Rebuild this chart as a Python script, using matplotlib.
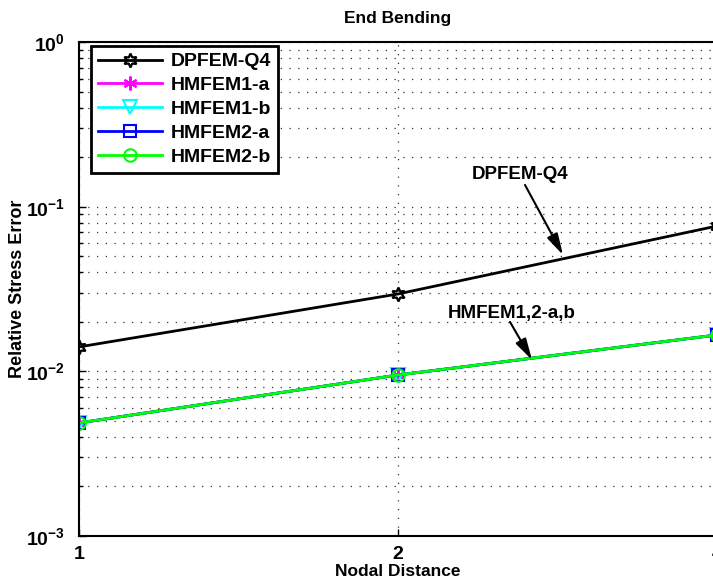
import math
import matplotlib
matplotlib.use("Agg")
import matplotlib.pyplot as plt
from matplotlib.ticker import FixedLocator, LogLocator, NullFormatter, FuncFormatter

plt.rcParams['font.family'] = ['Liberation Sans', 'DejaVu Sans']
plt.rcParams['font.weight'] = 'bold'
plt.rcParams['mathtext.fontset'] = 'custom'
plt.rcParams['mathtext.rm'] = 'Liberation Sans:bold'
plt.rcParams['mathtext.bf'] = 'Liberation Sans:bold'
plt.rcParams['mathtext.it'] = 'Liberation Sans:bold'

nodal = [1, 2, 4]
dpfem_q4 = [0.01407, 0.0295, 0.0763]
hmfem1_a = [0.00486, 0.0095, 0.01663]
hmfem1_b = [0.00486, 0.0095, 0.01663]
hmfem2_a = [0.00486, 0.0095, 0.01663]
hmfem2_b = [0.00486, 0.0095, 0.01663]
x_ticks = [1, 2, 4]

fig = plt.figure(figsize=(7.13, 5.86), dpi=100)
W, H = 713, 586
left, right, top, bottom = 79, 717, 42, 536
ax = fig.add_axes([left / W, 1 - bottom / H, (right - left) / W, (bottom - top) / H])
ax.set_xscale('log', base=2)
ax.set_yscale('log')

hexagram = (6, 1, 0)
asterisk = (6, 2, 0)
ax.plot(nodal, dpfem_q4, color='black', lw=2, marker=hexagram, ms=10, mfc='none', mew=1.6, label='DPFEM-Q4')
ax.plot(nodal, hmfem1_a, color='magenta', lw=2, marker=asterisk, ms=10, mew=1.5, label='HMFEM1-a')
ax.plot(nodal, hmfem1_b, color='cyan', lw=2, marker='v', ms=10, mfc='none', mew=1.5, label='HMFEM1-b')
ax.plot(nodal, hmfem2_a, color='blue', lw=2, marker='s', ms=8, mfc='none', mew=1.5, label='HMFEM2-a')
ax.plot(nodal, hmfem2_b, color='#00ff00', lw=2, marker='o', ms=9, mfc='none', mew=1.5, label='HMFEM2-b')

ax.set_xlim(1, 4)
ax.set_ylim(1e-3, 1)
ax.xaxis.set_major_locator(FixedLocator(x_ticks))
ax.xaxis.set_major_formatter(FuncFormatter(lambda v, p: f'{int(round(v))}'))
ax.xaxis.set_minor_locator(FixedLocator([]))
ax.yaxis.set_major_locator(LogLocator(base=10))
ax.yaxis.set_minor_locator(LogLocator(base=10, subs=range(2, 10)))
ax.yaxis.set_minor_formatter(NullFormatter())

def yfmt(v, p):
    e = int(round(math.log10(v)))
    return r'$10^{%d}$' % e
ax.yaxis.set_major_formatter(FuncFormatter(yfmt))

ax.grid(True, which='major', axis='both', linestyle=(0, (1, 6)), color='#333333', lw=0.9)
ax.grid(True, which='minor', axis='y', linestyle=(0, (1, 6)), color='#333333', lw=0.9)
ax.tick_params(axis='both', which='both', direction='in', labelsize=14, width=1, length=5)
ax.tick_params(which='minor', length=3)
ax.tick_params(axis='y', pad=10)
ax.tick_params(axis='x', pad=7)
for lbl in ax.get_xticklabels() + ax.get_yticklabels():
    lbl.set_fontweight('bold')
for s in ax.spines.values():
    s.set_linewidth(1.5)

ax.set_title('End Bending', fontsize=12.5, fontweight='bold', pad=14)
ax.set_xlabel('Nodal Distance', fontsize=12.5, fontweight='bold', labelpad=1)
ax.set_ylabel('Relative Stress Error', fontsize=13, fontweight='bold', labelpad=0)

leg = ax.legend(loc='upper left', bbox_to_anchor=(0.019, 0.992), fontsize=14, frameon=True,
                fancybox=False, edgecolor='black', framealpha=1, borderpad=0.35,
                handlelength=3.3, handletextpad=0.45, labelspacing=0.32, borderaxespad=0)
leg.get_frame().set_linewidth(2)
for t in leg.get_texts():
    t.set_fontweight('bold')

def xd(px):
    return 2 ** ((px - left) / 319.0)

def yd(py):
    return 10 ** (-(py - top) / 164.7)

aprops = dict(arrowstyle='-|>,head_length=1.3,head_width=0.35', color='black', lw=1.5,
              shrinkA=0, shrinkB=0)
ax.text(xd(520), yd(175), 'DPFEM-Q4', fontsize=13.5, fontweight='bold', ha='center', va='center')
ax.annotate('', xy=(xd(563), yd(255)), xytext=(xd(525), yd(185)), arrowprops=aprops)
ax.text(xd(512), yd(314), 'HMFEM1,2-a,b', fontsize=13.5, fontweight='bold', ha='center', va='center')
ax.annotate('', xy=(xd(532), yd(360)), xytext=(xd(510), yd(322)), arrowprops=aprops)

fig.savefig('out.png', dpi=100)
